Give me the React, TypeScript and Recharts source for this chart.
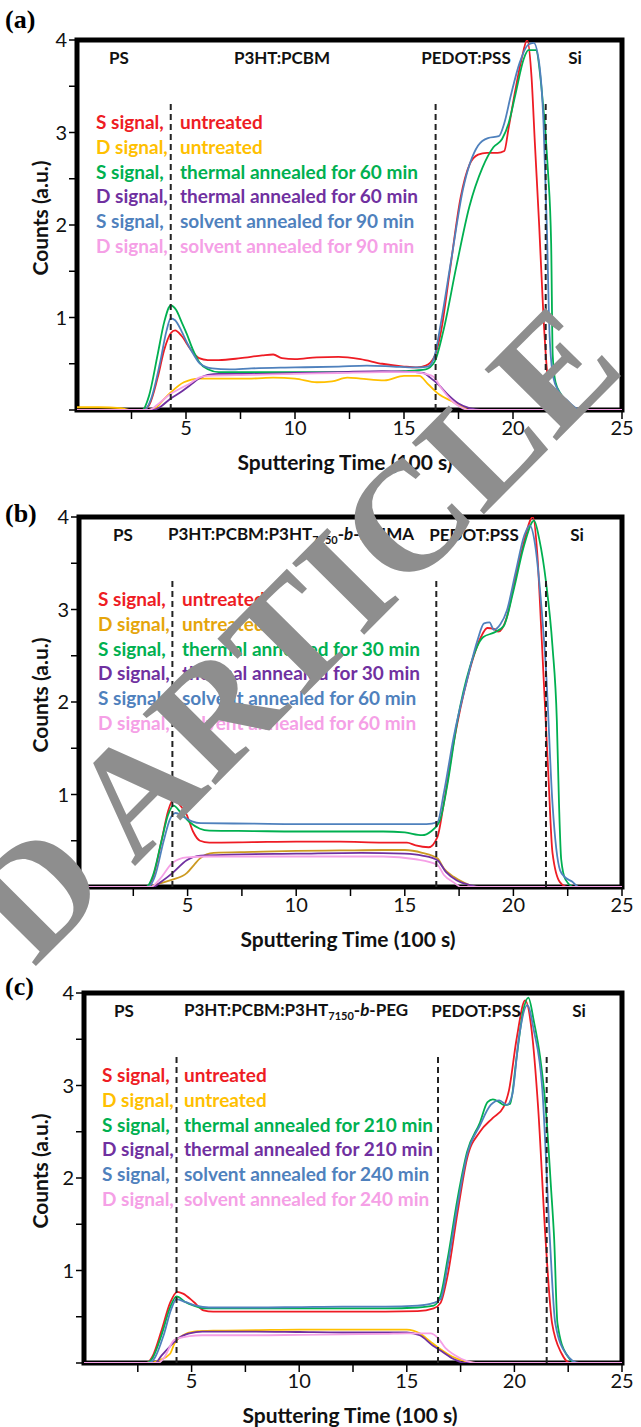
import React from 'react';
import { LineChart, Line, XAxis, YAxis, ReferenceLine, ReferenceArea } from 'recharts';

type Pt = [number, number];

// axis ticks
const xTicks = [2.5, 5, 7.5, 10, 12.5, 15, 17.5, 20, 22.5, 25];
const xLabels = [5, 10, 15, 20, 25];
const yTicks = [0, 0.5, 1, 1.5, 2, 2.5, 3, 3.5, 4];
const yLabels = [1, 2, 3, 4];

// layer boundaries (dashed lines)
const boundaries = [4.3, 16.45, 21.5];
const boundaryTop = 3.33;

const lineColors = ['#ee1c24', '#ffc000', '#00b050', '#7030a0', '#4f81bd', '#f5a0e6'];

// (a) P3HT:PCBM
const aSUntreated: Pt[] = [[0, 0], [3.0, 0], [3.3, 0.05], [3.7, 0.35], [4.0, 0.65], [4.3, 0.83], [4.5, 0.86], [4.8, 0.8], [5.2, 0.66], [5.6, 0.56], [6.0, 0.54], [6.5, 0.54], [7.5, 0.56], [8.5, 0.59], [9.0, 0.6], [9.4, 0.56], [10, 0.55], [11, 0.57], [12, 0.575], [13, 0.55], [14, 0.5], [15, 0.47], [15.6, 0.46], [16.0, 0.48], [16.4, 0.58], [16.7, 0.85], [17.1, 1.5], [17.6, 2.3], [18.0, 2.65], [18.4, 2.76], [18.8, 2.78], [19.3, 2.78], [19.6, 2.8], [19.8, 3.05], [20.1, 3.45], [20.4, 3.8], [20.65, 4.0], [20.85, 3.6], [21.0, 2.9], [21.2, 2.0], [21.4, 1.0], [21.55, 0.45], [21.7, 0.15], [22.0, 0.04], [22.3, 0], [25, 0]];
const aDUntreated: Pt[] = [[0, 0.03], [1, 0.03], [2, 0.02], [2.5, 0], [3.3, 0], [3.6, 0.02], [4.0, 0.12], [4.3, 0.19], [4.9, 0.3], [5.6, 0.34], [7, 0.34], [8, 0.34], [9, 0.35], [10, 0.34], [11, 0.3], [11.7, 0.31], [12.4, 0.35], [13, 0.34], [14.1, 0.32], [15, 0.37], [15.7, 0.37], [16.1, 0.28], [16.6, 0.17], [17.15, 0.1], [17.6, 0.04], [18, 0], [25, 0]];
const aSThermal: Pt[] = [[0, 0], [3.0, 0], [3.3, 0.15], [3.7, 0.6], [4.0, 0.95], [4.3, 1.13], [4.55, 1.08], [4.8, 0.95], [5.04, 0.82], [5.3, 0.66], [5.6, 0.52], [6.0, 0.44], [6.5, 0.41], [8, 0.41], [10, 0.41], [12, 0.41], [14, 0.41], [15, 0.42], [16, 0.44], [16.4, 0.52], [16.8, 0.85], [17.4, 1.55], [18.0, 2.2], [18.6, 2.62], [19.1, 2.84], [19.5, 2.93], [19.8, 3.1], [20.1, 3.4], [20.5, 3.8], [20.7, 3.89], [21.05, 3.89], [21.3, 3.5], [21.6, 2.6], [21.75, 1.8], [21.82, 0.6], [21.95, 0.3], [22.2, 0.17], [22.5, 0.08], [23.0, 0], [25, 0]];
const aDThermal: Pt[] = [[0, 0], [3.5, 0], [3.8, 0.03], [4.27, 0.12], [4.8, 0.2], [5.2, 0.27], [5.6, 0.34], [6.0, 0.38], [6.5, 0.39], [8, 0.39], [10, 0.4], [12, 0.41], [14, 0.42], [15.5, 0.41], [15.9, 0.4], [16.2, 0.35], [16.6, 0.27], [17.0, 0.17], [17.5, 0.07], [18, 0.02], [18.5, 0], [25, 0]];
const aSSolvent: Pt[] = [[0, 0], [3.1, 0], [3.4, 0.12], [3.8, 0.5], [4.1, 0.85], [4.3, 0.99], [4.5, 0.97], [4.8, 0.85], [5.04, 0.73], [5.35, 0.6], [5.65, 0.5], [6.2, 0.45], [7, 0.44], [8, 0.45], [10, 0.46], [12, 0.47], [13.3, 0.48], [14.5, 0.47], [15.5, 0.46], [16.1, 0.47], [16.4, 0.58], [16.7, 0.95], [17.15, 1.6], [17.7, 2.38], [18.4, 2.86], [18.85, 2.94], [19.35, 2.96], [19.6, 3.1], [19.9, 3.4], [20.3, 3.75], [20.7, 3.95], [20.95, 3.97], [21.2, 3.75], [21.4, 3.1], [21.55, 2.0], [21.68, 0.8], [21.85, 0.35], [22.1, 0.2], [22.5, 0.1], [23.1, 0], [25, 0]];
const aDSolvent: Pt[] = [[0, 0], [3.3, 0], [3.7, 0.06], [4.27, 0.17], [4.8, 0.24], [5.2, 0.29], [5.6, 0.35], [6.0, 0.37], [8, 0.38], [10, 0.39], [12, 0.4], [14, 0.41], [15.5, 0.41], [16.0, 0.39], [16.35, 0.36], [16.7, 0.24], [17.2, 0.1], [17.6, 0.03], [18, 0], [25, 0]];

// (b) P3HT:PCBM:P3HT7150-b-PMMA
const bSUntreated: Pt[] = [[0, 0], [3.1, 0], [3.4, 0.1], [3.8, 0.5], [4.1, 0.82], [4.35, 0.95], [4.6, 0.9], [4.96, 0.78], [5.25, 0.6], [5.57, 0.5], [6, 0.48], [8, 0.485], [10, 0.49], [12, 0.49], [14, 0.48], [15.1, 0.48], [15.5, 0.45], [16.1, 0.43], [16.5, 0.54], [16.8, 0.91], [17.25, 1.56], [17.9, 2.27], [18.5, 2.7], [18.8, 2.8], [19.1, 2.79], [19.3, 2.76], [19.7, 2.92], [20.0, 3.24], [20.4, 3.65], [20.9, 4.0], [21.1, 3.6], [21.3, 2.7], [21.6, 1.26], [21.8, 0.37], [22.15, 0.05], [22.5, 0], [25, 0]];
const bDUntreated: Pt[] = [[0, 0], [3.2, 0], [3.6, 0.03], [4.3, 0.08], [4.96, 0.15], [5.3, 0.24], [5.57, 0.31], [6.2, 0.37], [8, 0.38], [10, 0.39], [12, 0.395], [14, 0.4], [15, 0.4], [15.8, 0.37], [16.5, 0.31], [16.8, 0.2], [17.25, 0.11], [17.7, 0.05], [18.3, 0], [25, 0]];
const bSThermal: Pt[] = [[0, 0], [3.1, 0], [3.4, 0.12], [3.8, 0.5], [4.1, 0.78], [4.35, 0.88], [4.7, 0.8], [5.1, 0.7], [5.57, 0.63], [6, 0.61], [8, 0.605], [10, 0.6], [12, 0.6], [14, 0.6], [15, 0.59], [15.8, 0.56], [16.2, 0.6], [16.6, 0.71], [16.97, 1.12], [17.4, 1.77], [18.0, 2.38], [18.6, 2.7], [19.1, 2.75], [19.55, 2.82], [20.0, 3.2], [20.5, 3.7], [20.95, 3.96], [21.2, 3.75], [21.5, 3.3], [21.8, 2.6], [22.0, 1.8], [22.1, 0.9], [22.2, 0.3], [22.4, 0.08], [22.8, 0], [25, 0]];
const bDThermal: Pt[] = [[0, 0], [3.4, 0], [3.8, 0.06], [4.3, 0.15], [4.96, 0.29], [5.6, 0.34], [7, 0.35], [10, 0.36], [13, 0.37], [15, 0.36], [15.8, 0.34], [16.5, 0.29], [16.9, 0.16], [17.4, 0.07], [18, 0.02], [18.4, 0], [25, 0]];
const bSSolvent: Pt[] = [[0, 0], [3.2, 0], [3.5, 0.12], [3.9, 0.5], [4.2, 0.74], [4.45, 0.8], [4.8, 0.76], [5.2, 0.71], [5.6, 0.69], [8, 0.685], [10, 0.68], [12, 0.68], [14, 0.68], [16, 0.68], [16.5, 0.7], [16.8, 1.02], [17.25, 1.62], [17.9, 2.27], [18.35, 2.67], [18.65, 2.85], [18.9, 2.86], [19.1, 2.78], [19.4, 2.84], [19.7, 2.99], [20.1, 3.4], [20.5, 3.8], [20.75, 3.91], [21.0, 3.7], [21.3, 3.0], [21.5, 2.35], [21.8, 0.9], [22.15, 0.18], [22.4, 0.1], [22.7, 0.06], [23.0, 0], [25, 0]];
const bDSolvent: Pt[] = [[0, 0], [3.3, 0], [3.7, 0.08], [4.3, 0.26], [4.96, 0.32], [6, 0.33], [10, 0.33], [14, 0.33], [15.5, 0.3], [16.5, 0.24], [16.8, 0.13], [17.25, 0.05], [17.6, 0], [25, 0]];

// (c) P3HT:PCBM:P3HT7150-b-PEG
const cSUntreated: Pt[] = [[0, 0], [2.9, 0], [3.2, 0.08], [3.6, 0.35], [4.0, 0.65], [4.33, 0.77], [4.6, 0.75], [5.1, 0.66], [5.55, 0.57], [6, 0.555], [8, 0.555], [10, 0.555], [12, 0.555], [14, 0.555], [15.5, 0.56], [16.25, 0.59], [16.57, 0.65], [16.9, 0.95], [17.36, 1.63], [17.8, 2.21], [18.4, 2.5], [19.0, 2.65], [19.5, 2.77], [19.75, 2.95], [20.1, 3.5], [20.5, 3.92], [20.8, 3.6], [21.1, 2.77], [21.45, 1.33], [21.75, 0.43], [22.2, 0.1], [22.6, 0], [25, 0]];
const cDUntreated: Pt[] = [[0, 0], [3.0, 0], [3.5, 0.03], [4.0, 0.1], [4.2, 0.21], [4.6, 0.3], [5.1, 0.34], [6, 0.35], [8, 0.355], [10, 0.36], [12, 0.36], [14, 0.36], [15, 0.36], [15.6, 0.32], [16.1, 0.23], [16.5, 0.16], [17.1, 0.07], [17.7, 0.02], [18.2, 0], [25, 0]];
const cSThermal: Pt[] = [[0, 0], [2.9, 0], [3.2, 0.06], [3.6, 0.3], [4.0, 0.6], [4.3, 0.72], [4.7, 0.66], [5.1, 0.62], [5.6, 0.59], [8, 0.59], [10, 0.59], [12, 0.59], [14, 0.59], [15.5, 0.6], [16.25, 0.62], [16.57, 0.73], [16.9, 1.13], [17.36, 1.78], [17.8, 2.28], [18.4, 2.6], [18.75, 2.82], [19.0, 2.85], [19.3, 2.82], [19.5, 2.79], [19.8, 2.8], [20.1, 3.3], [20.4, 3.8], [20.65, 3.95], [20.9, 3.7], [21.2, 3.3], [21.45, 2.77], [21.7, 1.9], [21.85, 1.33], [22.0, 0.43], [22.4, 0.1], [22.9, 0], [25, 0]];
const cDThermal: Pt[] = [[0, 0], [3.3, 0], [3.6, 0.08], [4.0, 0.18], [4.4, 0.27], [4.9, 0.32], [5.5, 0.34], [8, 0.34], [10, 0.335], [12, 0.33], [14, 0.33], [15, 0.33], [15.6, 0.3], [16.2, 0.19], [16.6, 0.13], [17.2, 0.04], [17.7, 0], [25, 0]];
const cSSolvent: Pt[] = [[0, 0], [3.0, 0], [3.3, 0.06], [3.7, 0.3], [4.05, 0.58], [4.3, 0.69], [4.7, 0.66], [5.2, 0.62], [5.8, 0.6], [8, 0.6], [10, 0.605], [12, 0.61], [14, 0.61], [15.5, 0.62], [16.25, 0.65], [16.57, 0.69], [16.9, 1.06], [17.36, 1.71], [17.8, 2.25], [18.4, 2.57], [18.9, 2.79], [19.3, 2.84], [19.65, 2.79], [19.9, 2.9], [20.2, 3.5], [20.6, 3.87], [20.9, 3.6], [21.3, 2.95], [21.65, 1.33], [21.9, 0.43], [22.4, 0.1], [23.0, 0], [25, 0]];
const cDSolvent: Pt[] = [[0, 0], [3.45, 0], [3.7, 0.05], [4.2, 0.25], [4.9, 0.29], [5.5, 0.3], [8, 0.3], [10, 0.305], [12, 0.31], [14, 0.315], [15, 0.32], [16.1, 0.32], [16.45, 0.27], [16.8, 0.16], [17.2, 0.09], [17.8, 0.02], [18.2, 0], [25, 0]];

const legendA = [['S signal,', 'untreated'], ['D signal,', 'untreated'], ['S signal,', 'thermal annealed for 60 min'], ['D signal,', 'thermal annealed for 60 min'], ['S signal,', 'solvent annealed for 90 min'], ['D signal,', 'solvent annealed for 90 min']];
const legendB = [['S signal,', 'untreated'], ['D signal,', 'untreated'], ['S signal,', 'thermal annealed for 30 min'], ['D signal,', 'thermal annealed for 30 min'], ['S signal,', 'solvent annealed for 60 min'], ['D signal,', 'solvent annealed for 60 min']];
const legendC = [['S signal,', 'untreated'], ['D signal,', 'untreated'], ['S signal,', 'thermal annealed for 210 min'], ['D signal,', 'thermal annealed for 210 min'], ['S signal,', 'solvent annealed for 240 min'], ['D signal,', 'solvent annealed for 240 min']];

const watermark = 'D ARTICLE';

const sans = 'Lato, "Open Sans", sans-serif';

type PanelProps = {
  top: number;
  left: number;
  letter: string;
  letterTop: number;
  series: Pt[][];
  colors: string[];
  textColors: string[];
  legend: string[][];
  legendX: [number, number];
  regions: { x: number; node: React.ReactNode }[];
  xTitleX: number;
};

const Panel = ({ top, left, letter, letterTop, series, colors, textColors, legend, legendX, regions, xTitleX }: PanelProps) => {
  const tickStyle = { fontSize: 20, fill: '#111', fontFamily: sans };
  const legendStyle = { position: 'absolute' as const, transform: 'translateY(-50%)', fontFamily: sans, fontWeight: 'bold', fontSize: 19, whiteSpace: 'nowrap' as const };
  return (
    <div style={{ position: 'absolute', left: 0, top, width: 641, height: 476 }}>
      <LineChart width={641} height={476} margin={{ top: 41, right: 19, bottom: 0, left: 0 }}>
        <XAxis
          type="number"
          dataKey="t"
          domain={[0, 25]}
          ticks={xTicks}
          tickFormatter={(v: number) => (xLabels.includes(v) ? String(v) : '')}
          axisLine={false}
          tickSize={9}
          tickLine={{ stroke: '#000', strokeWidth: 1.5 }}
          tick={tickStyle}
          height={65}
          allowDataOverflow
        />
        <YAxis
          type="number"
          dataKey="c"
          domain={[0, 4]}
          ticks={yTicks}
          tickFormatter={(v: number) => (yLabels.includes(v) ? String(v) : '')}
          axisLine={false}
          tickSize={8}
          tickLine={{ stroke: '#000', strokeWidth: 1.5 }}
          tick={tickStyle}
          width={left}
          allowDataOverflow
        />
        {series.map((pts, i) => (
          <Line
            key={i}
            data={pts.map(([t, c]) => ({ t, c }))}
            dataKey="c"
            type="monotone"
            stroke={colors[i]}
            strokeWidth={1.8}
            dot={false}
            activeDot={false}
            isAnimationActive={false}
          />
        ))}
        {boundaries.map((b) => (
          <ReferenceLine
            key={b}
            segment={[{ x: b, y: 0 }, { x: b, y: boundaryTop }]}
            stroke="#222"
            strokeWidth={2}
            strokeDasharray="6 4"
          />
        ))}
        <ReferenceArea x1={0} x2={25} y1={0} y2={4} fill="none" stroke="#000" strokeWidth={5} />
      </LineChart>

      <div style={{ position: 'absolute', left: 5, top: letterTop, fontFamily: '"Liberation Serif", serif', fontWeight: 'bold', fontSize: 26, lineHeight: '26px' }}>
        {letter}
      </div>

      {regions.map((r, i) => (
        <div key={i} style={{ position: 'absolute', left: r.x, top: 58, transform: 'translate(-50%, -50%)', fontFamily: sans, fontWeight: 'bold', fontSize: 17, whiteSpace: 'nowrap', color: '#111' }}>
          {r.node}
        </div>
      ))}

      {legend.map(([s, d], i) => (
        <React.Fragment key={i}>
          <div style={{ ...legendStyle, left: legendX[0], top: 122 + i * 24.8, color: textColors[i] }}>{s}</div>
          <div style={{ ...legendStyle, left: legendX[1], top: 122 + i * 24.8, color: textColors[i] }}>{d}</div>
        </React.Fragment>
      ))}

      <div style={{ position: 'absolute', left: 39, top: 219, transform: 'translate(-50%, -50%) rotate(-90deg)', fontFamily: sans, fontWeight: 'bold', fontSize: 21, whiteSpace: 'nowrap', color: '#111' }}>
        Counts (a.u.)
      </div>
      <div style={{ position: 'absolute', left: xTitleX, top: 462, transform: 'translate(-50%, -50%)', fontFamily: sans, fontWeight: 'bold', fontSize: 21, whiteSpace: 'nowrap', color: '#111' }}>
        Sputtering Time (100 s)
      </div>
    </div>
  );
};

const sub = (base: string, end: string) => (
  <span>
    {base}
    <sub style={{ fontSize: 11, verticalAlign: '-4px' }}>7150</sub>-<i>b</i>-{end}
  </span>
);

const bColors = [lineColors[0], '#cc9a22', lineColors[2], lineColors[3], lineColors[4], lineColors[5]];
const bTextColors = [lineColors[0], '#e5a50a', lineColors[2], lineColors[3], lineColors[4], lineColors[5]];

export default function App() {
  return (
    <div style={{ position: 'absolute', left: 0, top: 0, width: 641, height: 1427, background: '#fff', overflow: 'hidden' }}>
      <Panel
        top={-1}
        left={77}
        letter="(a)"
        letterTop={8}
        series={[aSUntreated, aDUntreated, aSThermal, aDThermal, aSSolvent, aDSolvent]}
        colors={lineColors}
        textColors={lineColors}
        legend={legendA}
        legendX={[96, 180]}
        regions={[{ x: 119, node: 'PS' }, { x: 282, node: 'P3HT:PCBM' }, { x: 466, node: 'PEDOT:PSS' }, { x: 575, node: 'Si' }]}
        xTitleX={345}
      />
      <Panel
        top={476}
        left={79}
        letter="(b)"
        letterTop={25}
        series={[bSUntreated, bDUntreated, bSThermal, bDThermal, bSSolvent, bDSolvent]}
        colors={bColors}
        textColors={bTextColors}
        legend={legendB}
        legendX={[98, 182]}
        regions={[{ x: 123, node: 'PS' }, { x: 291, node: sub('P3HT:PCBM:P3HT', 'PMMA') }, { x: 474, node: 'PEDOT:PSS' }, { x: 577, node: 'Si' }]}
        xTitleX={348}
      />
      <Panel
        top={952}
        left={84}
        letter="(c)"
        letterTop={22}
        series={[cSUntreated, cDUntreated, cSThermal, cDThermal, cSSolvent, cDSolvent]}
        colors={lineColors}
        textColors={lineColors}
        legend={legendC}
        legendX={[102, 184]}
        regions={[{ x: 124, node: 'PS' }, { x: 296, node: sub('P3HT:PCBM:P3HT', 'PEG') }, { x: 476, node: 'PEDOT:PSS' }, { x: 579, node: 'Si' }]}
        xTitleX={350}
      />
      <svg width={641} height={1427} style={{ position: 'absolute', left: 0, top: 0, pointerEvents: 'none' }}>
        <text
          x={34}
          y={968}
          transform="rotate(-45.25 34 968)"
          fontFamily='"Liberation Serif", serif'
          fontWeight="bold"
          fontSize={155}
          fill="#8e8e8e"
        >
          {watermark}
        </text>
      </svg>
    </div>
  );
}
